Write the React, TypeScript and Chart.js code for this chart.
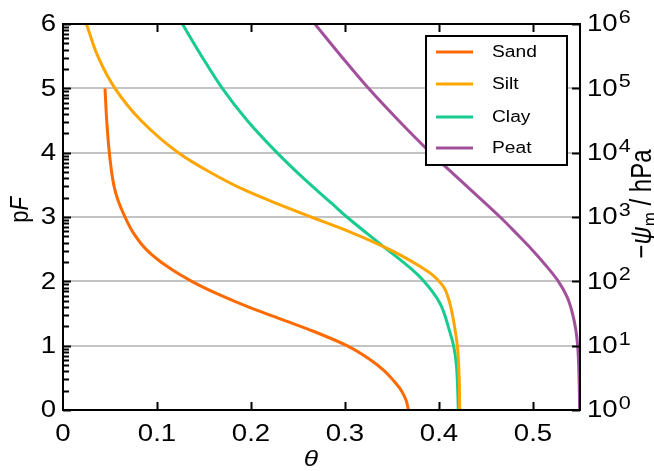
import React, { useEffect, useRef } from 'react';
import { Chart, registerables } from 'chart.js';

Chart.register(...registerables);

// ---- data (theta vs pF) ----
const seriesNames = ['Sand', 'Silt', 'Clay', 'Peat'];
const seriesColors = ['#ff6a00', '#ffa500', '#17cc8e', '#a3509c'];

const sandPF = [5, 4.5, 4, 3.5, 3.26, 3, 2.75, 2.49, 2.23, 2, 1.8, 1.59, 1.4, 1.22, 1, 0.8, 0.62, 0.45, 0.3, 0.15, 0];
const sandTheta = [0.0447, 0.0465, 0.0493, 0.054, 0.0585, 0.066, 0.075, 0.089, 0.111, 0.137, 0.165, 0.199, 0.234, 0.267, 0.302, 0.325, 0.341, 0.352, 0.36, 0.365, 0.3675];

const siltPF = [6, 5.5, 5, 4.5, 4, 3.7, 3.42, 3.2, 3, 2.8, 2.54, 2.4, 2.23, 2.1, 2, 1.9, 1.8, 1.66, 1.5, 1.3, 1, 0.5, 0];
const siltTheta = [0.025, 0.037, 0.0553, 0.083, 0.1227, 0.156, 0.193, 0.229, 0.264, 0.3, 0.341, 0.36, 0.38, 0.393, 0.4, 0.4055, 0.4085, 0.4115, 0.414, 0.4165, 0.4195, 0.4215, 0.422];

const clayPF = [6, 5.5, 5, 4.5, 4.04, 3.6, 3.21, 3, 2.54, 2.2, 2, 1.66, 1.24, 1, 0.7, 0.35, 0];
const clayTheta = [0.127, 0.1475, 0.1695, 0.196, 0.225, 0.256, 0.286, 0.302, 0.341, 0.37, 0.384, 0.401, 0.411, 0.4155, 0.4185, 0.4198, 0.4205];

const peatPF = [6, 5.5, 5, 4.5, 4, 3.5, 3, 2.75, 2.5, 2.25, 2, 1.75, 1.5, 1.25, 1, 0.5, 0];
const peatTheta = [0.268, 0.296, 0.325, 0.357, 0.391, 0.428, 0.465, 0.482, 0.4985, 0.5135, 0.527, 0.5365, 0.542, 0.5455, 0.5475, 0.549, 0.5496];

const seriesPF = [sandPF, siltPF, clayPF, peatPF];
const seriesTheta = [sandTheta, siltTheta, clayTheta, peatTheta];

const xTickValues = [0, 0.1, 0.2, 0.3, 0.4, 0.5];
const xTickLabels = ['0', '0.1', '0.2', '0.3', '0.4', '0.5'];
const yTickValues = [0, 1, 2, 3, 4, 5, 6];
const yTickLabels = ['0', '1', '2', '3', '4', '5', '6'];
const rightTickBase = '10';
const rightTickExponents = ['0', '1', '2', '3', '4', '5', '6'];

const FONT = '"Liberation Sans", Arial, sans-serif';
const SX = 1.2; // horizontal stretch of the reference text

function stretchedText(
  ctx: CanvasRenderingContext2D,
  text: string,
  x: number,
  y: number,
  font: string,
  align: CanvasTextAlign,
  baseline: CanvasTextBaseline
) {
  ctx.save();
  ctx.font = font;
  ctx.textAlign = align;
  ctx.textBaseline = baseline;
  ctx.translate(x, y);
  ctx.scale(SX, 1);
  ctx.fillText(text, 0, 0);
  ctx.restore();
}

type Piece = { t: string; font: string; dy?: number };

function rotatedPieces(ctx: CanvasRenderingContext2D, pieces: Piece[], x: number, yCenter: number) {
  ctx.save();
  ctx.translate(x, yCenter);
  ctx.scale(SX, 1);
  ctx.rotate(-Math.PI / 2);
  ctx.textBaseline = 'alphabetic';
  ctx.textAlign = 'left';
  let total = 0;
  const widths = pieces.map((p) => {
    ctx.font = p.font;
    const w = ctx.measureText(p.t).width;
    total += w;
    return w;
  });
  let cx = -total / 2;
  pieces.forEach((p, i) => {
    ctx.font = p.font;
    ctx.fillText(p.t, cx, p.dy || 0);
    cx += widths[i];
  });
  ctx.restore();
}

const decorPlugin = {
  id: 'decor',
  afterDatasetsDraw(chart: any) {
    const ctx: CanvasRenderingContext2D = chart.ctx;
    const a = chart.chartArea;
    const xs = chart.scales.x;
    const ys = chart.scales.y;
    ctx.save();
    ctx.fillStyle = '#000';
    ctx.strokeStyle = '#000';

    // frame
    ctx.lineWidth = 2;
    ctx.strokeRect(a.left, a.top, a.right - a.left, a.bottom - a.top);

    // x ticks (inward, bottom and top)
    ctx.lineWidth = 2;
    ctx.beginPath();
    xTickValues.forEach((v) => {
      if (v === 0) return;
      const px = Math.round(xs.getPixelForValue(v)) + 0.5;
      ctx.moveTo(px, a.bottom);
      ctx.lineTo(px, a.bottom - 8);
      ctx.moveTo(px, a.top);
      ctx.lineTo(px, a.top + 8);
    });
    ctx.stroke();

    // left ticks: major + log minor, inward; right major ticks
    ctx.beginPath();
    yTickValues.forEach((v) => {
      const py = Math.round(ys.getPixelForValue(v)) + 0.5;
      ctx.moveTo(a.left, py);
      ctx.lineTo(a.left + 8, py);
      if (v < 6) {
        for (let k = 2; k <= 9; k++) {
          const my = Math.round(ys.getPixelForValue(v + Math.log10(k))) + 0.5;
          ctx.moveTo(a.left, my);
          ctx.lineTo(a.left + 6, my);
        }
      }
      ctx.moveTo(a.right, py);
      ctx.lineTo(a.right - 8, py);
    });
    ctx.lineWidth = 1.8;
    ctx.stroke();

    // left tick labels
    const tickFont = `23px ${FONT}`;
    yTickValues.forEach((v, i) => {
      const py = ys.getPixelForValue(v);
      stretchedText(ctx, yTickLabels[i], a.left - 7, py + 1, tickFont, 'right', 'middle');
    });
    // bottom tick labels
    xTickValues.forEach((v, i) => {
      const px = xs.getPixelForValue(v);
      stretchedText(ctx, xTickLabels[i], px, a.bottom + 25, tickFont, 'center', 'middle');
    });
    // right tick labels 10^n
    const supFont = `18px ${FONT}`;
    yTickValues.forEach((v, i) => {
      const py = ys.getPixelForValue(v);
      const lx = a.right + 7;
      stretchedText(ctx, rightTickBase, lx, py + 1, tickFont, 'left', 'middle');
      ctx.font = tickFont;
      const w = ctx.measureText(rightTickBase).width * SX;
      stretchedText(ctx, rightTickExponents[i], lx + w + 1, py - 1, supFont, 'left', 'alphabetic');
    });

    // axis titles
    stretchedText(ctx, 'θ', 311, 460, `italic 22px ${FONT}`, 'center', 'middle');
    rotatedPieces(
      ctx,
      [
        { t: 'p', font: `22px ${FONT}` },
        { t: 'F', font: `italic 22px ${FONT}` },
      ],
      28,
      210
    );
    rotatedPieces(
      ctx,
      [
        { t: '−', font: `24px ${FONT}` },
        { t: 'ψ', font: `italic 25px ${FONT}` },
        { t: 'm', font: `17px ${FONT}`, dy: 5 },
        { t: ' / hPa', font: `24px ${FONT}` },
      ],
      651,
      204
    );
    ctx.restore();
  },
  afterDraw(chart: any) {
    const ctx: CanvasRenderingContext2D = chart.ctx;
    ctx.save();
    // legend box
    const bx = 426, by = 36, bw = 141, bh = 129;
    ctx.fillStyle = '#fff';
    ctx.fillRect(bx, by, bw, bh);
    ctx.strokeStyle = '#000';
    ctx.lineWidth = 2;
    ctx.strokeRect(bx, by, bw, bh);
    const rows = [52, 84, 117, 148];
    seriesNames.forEach((name, i) => {
      ctx.strokeStyle = seriesColors[i];
      ctx.lineWidth = 3;
      ctx.beginPath();
      ctx.moveTo(436, rows[i]);
      ctx.lineTo(473, rows[i]);
      ctx.stroke();
      ctx.fillStyle = '#000';
      stretchedText(ctx, name, 492, rows[i] + 1, `16px ${FONT}`, 'left', 'middle');
    });
    ctx.restore();
  },
};

export default function App() {
  const canvasRef = useRef<HTMLCanvasElement | null>(null);

  useEffect(() => {
    document.body.style.margin = '0';
    const canvas = canvasRef.current;
    if (!canvas) return;
    const datasets = seriesNames.map((name, i) => ({
      label: name,
      data: seriesTheta[i].map((t, j) => ({ x: t, y: seriesPF[i][j] })),
      borderColor: seriesColors[i],
      backgroundColor: seriesColors[i],
      borderWidth: 3,
      pointRadius: 0,
      cubicInterpolationMode: 'monotone',
      fill: false,
    }));
    const chart = new Chart(canvas, {
      type: 'line',
      data: { datasets },
      options: {
        indexAxis: 'y',
        animation: false,
        responsive: false,
        devicePixelRatio: 1,
        layout: { padding: { left: 63, right: 74, top: 24, bottom: 61 } },
        plugins: { legend: { display: false }, tooltip: { enabled: false } },
        scales: {
          x: {
            type: 'linear',
            min: 0,
            max: 0.55,
            grid: { display: false },
            border: { display: false },
            ticks: { display: false },
            afterFit: (s: any) => {
              s.height = 0;
            },
          },
          y: {
            type: 'linear',
            min: 0,
            max: 6,
            grid: {
              color: (c: any) => (c.tick && c.tick.value > 0 && c.tick.value < 6 ? '#c4c4c4' : 'rgba(0,0,0,0)'),
              lineWidth: 2,
              drawTicks: false,
            },
            border: { display: false },
            ticks: { display: false, stepSize: 1 },
            afterFit: (s: any) => {
              s.width = 0;
            },
          },
        },
      } as any,
      plugins: [decorPlugin],
    });
    return () => chart.destroy();
  }, []);

  return (
    <div style={{ position: 'absolute', left: 0, top: 0, width: 654, height: 471, background: '#fff' }}>
      <canvas ref={canvasRef} width={654} height={471} />
    </div>
  );
}
